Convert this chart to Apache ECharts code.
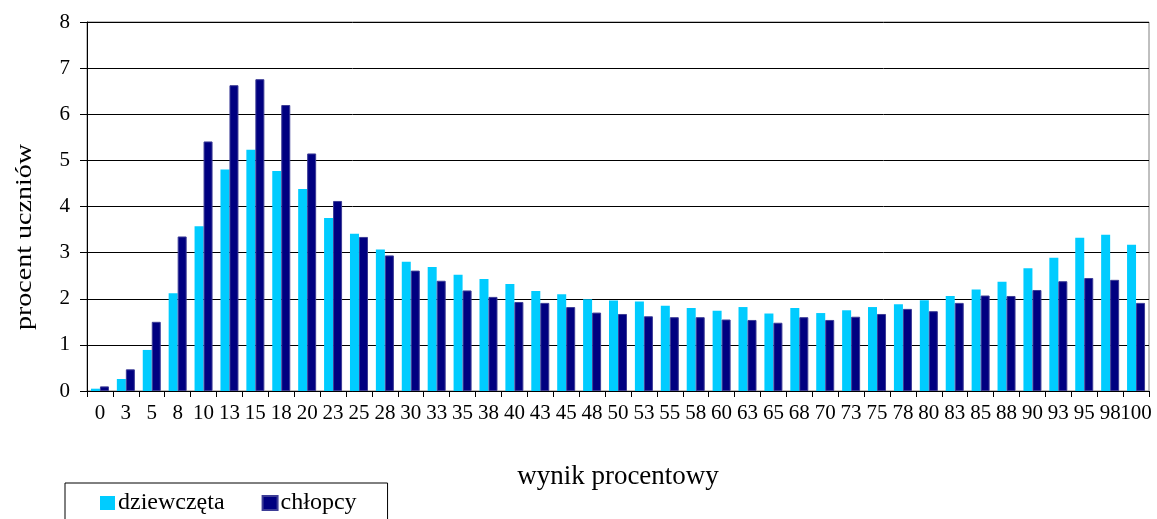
<!DOCTYPE html>
<html>
<head>
<meta charset="utf-8">
<script src="https://cdn.jsdelivr.net/npm/echarts@6/dist/echarts.min.js"></script>
<style>html,body{margin:0;padding:0;background:#fff}#c{width:1157px;height:519px}</style>
</head>
<body>
<div id="c"></div>
<script>
const categories = ['0','3','5','8','10','13','15','18','20','23','25','28','30','33','35','38','40','43','45','48','50','53','55','58','60','63','65','68','70','73','75','78','80','83','85','88','90','93','95','98','100'];
const dziewczeta = [0.05,0.26,0.89,2.12,3.57,4.80,5.23,4.77,4.38,3.75,3.41,3.07,2.80,2.69,2.52,2.43,2.32,2.17,2.10,1.99,1.96,1.94,1.85,1.80,1.74,1.82,1.68,1.80,1.69,1.75,1.82,1.88,1.97,2.06,2.20,2.37,2.66,2.89,3.32,3.39,3.17];
const chlopcy = [0.10,0.47,1.50,3.35,5.41,6.63,6.76,6.20,5.15,4.12,3.34,2.94,2.61,2.39,2.18,2.04,1.93,1.91,1.82,1.70,1.67,1.62,1.60,1.60,1.55,1.54,1.48,1.60,1.54,1.61,1.67,1.78,1.73,1.91,2.07,2.06,2.19,2.38,2.45,2.41,1.91];
const seriesNames = ['dziewczęta','chłopcy'];
const yAxisTitle = 'procent uczniów';
const xAxisTitle = 'wynik procentowy';
const yTicks = {min:0, max:8, interval:1};

const font = 'Liberation Serif, Times New Roman, serif';
const chart = echarts.init(document.getElementById('c'));
chart.setOption({
  animation:false,
  textStyle:{fontFamily:font,color:'#000'},
  grid:{left:87,right:8,top:22,bottom:128,containLabel:false,outerBoundsMode:'none',show:true,borderColor:'#808080',borderWidth:1,backgroundColor:'transparent'},
  graphic:[{
    type:'text', x:25, y:237, rotation:Math.PI/2, scaleX:1.22, scaleY:1,
    style:{text:yAxisTitle, fontFamily:font, fontSize:23, fill:'#000', align:'center', verticalAlign:'middle'}
  }],
  legend:{
    data:seriesNames, left:65, top:483, orient:'horizontal',
    icon:'rect', itemWidth:15, itemHeight:14, itemGap:37,
    padding:[8,31,20,35], borderColor:'#000', borderWidth:1,
    textStyle:{fontFamily:font,fontSize:24,color:'#000',padding:[0,0,0,-2]}
  },
  xAxis:{
    type:'category', data:categories,
    name:xAxisTitle, nameLocation:'middle', nameGap:72,
    nameTextStyle:{fontFamily:font,fontSize:27,color:'#000'},
    axisLine:{lineStyle:{color:'#000',width:1}},
    axisTick:{show:true,length:6,lineStyle:{color:'#000'},alignWithLabel:false},
    axisLabel:{interval:0,fontFamily:font,fontSize:21,color:'#000',margin:12},
    splitLine:{show:false}
  },
  yAxis:{
    type:'value', min:yTicks.min, max:yTicks.max, interval:yTicks.interval,
    axisLine:{show:true,lineStyle:{color:'#000',width:1}},
    axisTick:{show:true,length:7,lineStyle:{color:'#000'}},
    axisLabel:{fontFamily:font,fontSize:21,color:'#000',margin:17},
    splitLine:{show:true,lineStyle:{color:'#000',width:1}}
  },
  series:[
    {name:seriesNames[0], type:'bar', data:dziewczeta, barWidth:9, barGap:'0%',
     itemStyle:{color:'#00CCFF'}},
    {name:seriesNames[1], type:'bar', data:chlopcy, barWidth:9,
     itemStyle:{color:'#000080',borderColor:'#3c3c96',borderWidth:1}}
  ]
});
</script>
</body>
</html>
